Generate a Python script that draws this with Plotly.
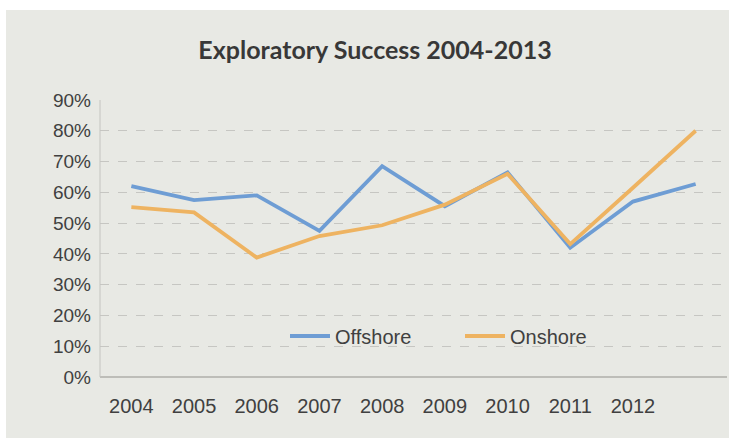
import plotly.graph_objects as go

# Exploratory success rates by year (percent)
years = [2004, 2005, 2006, 2007, 2008, 2009, 2010, 2011, 2012, 2013]
offshore = [62, 57.5, 59, 47.5, 68.5, 55.5, 66.5, 42, 57, 62.7]
onshore = [55.2, 53.5, 38.8, 45.8, 49.3, 56, 66, 43.2, 61.5, 80]
tick_years = [2004, 2005, 2006, 2007, 2008, 2009, 2010, 2011, 2012]
y_ticks = [0, 10, 20, 30, 40, 50, 60, 70, 80, 90]
y_labels = [f"{v}%" for v in y_ticks]

W, H = 729, 438
M_L, M_R, M_T, M_B = 100, 2, 100, 61
PANEL = "#e8e9e4"
TXT = "#404040"
FONT = "Liberation Sans, Arial, sans-serif"

plot_w = W - M_L - M_R
plot_h = H - M_T - M_B


def px_x(x):
    return (x - M_L) / plot_w


def px_y(y):
    return (H - y - M_B) / plot_h


fig = go.Figure()
fig.add_trace(go.Scatter(x=years, y=offshore, name="Offshore", mode="lines",
                         line=dict(color="#6e9dd4", width=3.8)))
fig.add_trace(go.Scatter(x=years, y=onshore, name="Onshore", mode="lines",
                         line=dict(color="#eeb361", width=3.8)))

# white page border around the grey panel
shapes = [
    dict(type="rect", xref="paper", yref="paper", layer="below",
         x0=px_x(0), x1=px_x(W), y0=px_y(10), y1=px_y(0),
         fillcolor="white", line=dict(width=0)),
    dict(type="rect", xref="paper", yref="paper", layer="below",
         x0=px_x(0), x1=px_x(6), y0=px_y(H), y1=px_y(0),
         fillcolor="white", line=dict(width=0)),
    # vertical axis line
    dict(type="line", xref="paper", yref="paper", x0=0, x1=0, y0=0, y1=1,
         line=dict(color="#c4c4c0", width=1)),
]

fig.update_layout(
    width=W, height=H,
    margin=dict(l=M_L, r=M_R, t=M_T, b=M_B, autoexpand=False),
    paper_bgcolor=PANEL, plot_bgcolor=PANEL,
    font=dict(family=FONT, color=TXT),
    title=dict(text="<b>Exploratory Success 2004-2013</b>",
               font=dict(family="Lato, sans-serif", size=25, color="#383838"),
               x=375 / W, xref="container", xanchor="center",
               y=1 - 50 / H, yref="container", yanchor="middle"),
    shapes=shapes,
    showlegend=True,
    legend=dict(orientation="h", x=px_x(285), y=px_y(336),
                xanchor="left", yanchor="middle",
                bgcolor="rgba(0,0,0,0)",
                font=dict(family=FONT, size=20, color=TXT),
                entrywidth=120, entrywidthmode="pixels",
                itemwidth=40),
)

fig.update_xaxes(range=[2003.5, 2013.5], tickmode="array", tickvals=tick_years,
                 ticktext=[str(v) for v in tick_years],
                 showgrid=False, zeroline=False, showline=False,
                 ticks="", ticklabelstandoff=15,
                 tickfont=dict(family=FONT, size=20, color=TXT))
fig.update_yaxes(range=[0, 90], tickmode="array", tickvals=y_ticks, ticktext=y_labels,
                 showgrid=True, gridcolor="#c6c6c2", griddash="dash", gridwidth=1,
                 zeroline=True, zerolinecolor="#bdbdb8", zerolinewidth=1.5,
                 showline=False, ticks="", ticklabelstandoff=8,
                 tickfont=dict(family=FONT, size=19, color=TXT))

fig.write_html("out.html")
